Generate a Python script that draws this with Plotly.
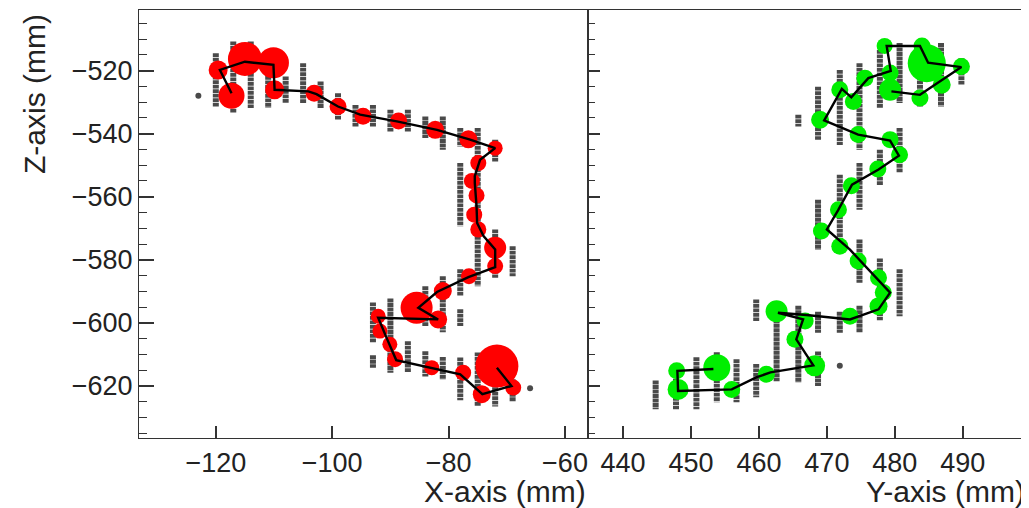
import plotly.graph_objects as go

# ---------------- data ----------------
# Left panel (X-Z view): gray hit columns, each column = x, z top, z bottom
XZ_COL_X = [-120, -117, -114, -111, -108, -105, -102, -99, -96, -93, -90, -87, -84, -81,
            -78, -78, -75, -72, -72, -69, -78, -78, -81, -84, -90, -93, -93, -87, -84,
            -81, -78, -75, -72, -69]
XZ_COL_ZTOP = [-514.5, -510.8, -510.8, -516.0, -521.9, -517.7, -523.5, -527.2, -530.9, -530.9,
               -532.4, -532.4, -534.6, -534.6, -538.2, -549.3, -538.2, -541.9, -570.4, -575.7,
               -583.0, -595.7, -585.2, -588.4, -592.3, -593.5, -610.3, -605.8, -609.0, -610.8,
               -611.0, -609.4, -614.7, -617.9]
XZ_COL_ZBOT = [-531.5, -533.3, -531.9, -531.9, -530.3, -530.3, -531.9, -535.6, -537.7, -537.7,
               -539.3, -539.3, -541.4, -545.1, -544.1, -569.4, -588.4, -548.8, -585.7, -585.2,
               -591.5, -601.0, -603.0, -601.0, -615.8, -606.2, -614.2, -615.8, -617.0, -618.0,
               -624.5, -626.5, -626.5, -625.0]
XZ_HIT_X = [-123, -66]
XZ_HIT_Z = [-528.0, -620.7]

# Left panel clusters (red) and fitted track
XZ_CL_X = [-119.6, -115.0, -110.1, -117.3, -109.9, -103.1, -99.0, -94.7, -88.6, -82.3, -76.6,
           -72.0, -74.9, -76.0, -75.2, -75.6, -74.9, -72.0, -72.0, -76.5, -81.0, -85.5, -81.8,
           -92.1, -91.8, -90.1, -89.2, -82.9, -77.5, -74.3, -71.7, -68.9]
XZ_CL_Z = [-519.8, -516.3, -517.5, -528.0, -526.1, -527.2, -531.4, -534.5, -536.0, -538.8, -541.8,
           -544.6, -549.3, -555.0, -559.6, -565.7, -570.4, -576.2, -582.0, -585.2, -589.9, -595.2,
           -598.9, -597.9, -602.6, -606.8, -611.5, -614.2, -615.8, -622.6, -613.7, -620.5]
XZ_CL_E = [19, 34, 31, 26, 19, 17, 17, 17, 17, 18, 18, 15, 16, 16, 16, 16, 16, 22, 16, 16, 18, 32,
           18, 15, 15, 15, 16, 15, 16, 18, 43, 16]
XZ_TRK_X = [-117.3, -119.3, -115.0, -110.1, -109.9, -104.1, -102.7, -99.0, -95.2, -88.9, -82.0,
            -76.3, -72.0, -74.6, -75.5, -75.5, -75.2, -75.1, -74.0, -72.0, -72.0, -76.6, -82.0,
            -85.2, -81.8, -92.1, -90.6, -89.0, -78.0, -74.2, -69.2, -71.7]
XZ_TRK_Z = [-527.2, -519.8, -517.2, -518.2, -526.1, -526.6, -527.5, -531.4, -534.0, -536.1, -538.8,
            -541.9, -544.6, -548.3, -553.5, -555.6, -563.0, -568.3, -572.5, -576.7, -582.3, -585.5,
            -590.2, -595.2, -598.9, -598.4, -605.0, -611.8, -616.3, -622.6, -620.0, -614.2]

# Right panel (Y-Z view)
YZ_COL_Y = [444.8, 447.8, 450.8, 453.8, 456.7, 459.6, 459.6, 462.6, 465.8, 468.7, 468.7, 471.9,
            474.8, 474.8, 477.8, 480.7, 468.7, 471.9, 474.8, 477.8, 480.7, 477.8, 480.7, 483.7,
            486.8, 489.8, 468.7, 471.9, 474.8, 465.8]
YZ_COL_ZTOP = [-618.3, -613.5, -610.9, -609.3, -611.5, -592.6, -613.0, -594.6, -594.6, -596.5,
               -609.1, -596.5, -594.6, -573.6, -579.6, -583.0, -561.0, -553.0, -549.3, -545.1,
               -538.2, -513.5, -511.3, -510.3, -511.3, -516.1, -525.1, -519.8, -517.7, -534.0]
YZ_COL_ZBOT = [-627.4, -627.4, -627.4, -625.2, -625.2, -599.4, -623.6, -618.5, -618.9, -603.1,
               -620.0, -603.1, -603.1, -587.3, -599.2, -597.9, -576.8, -576.8, -564.1, -556.5,
               -552.5, -531.9, -530.3, -531.4, -531.4, -524.5, -541.9, -543.6, -545.1, -537.7]
YZ_HIT_Y = [471.9]
YZ_HIT_Z = [-613.6]

YZ_CL_Y = [478.5, 484.0, 484.7, 489.8, 486.9, 483.7, 479.3, 479.3, 475.6, 471.9, 473.9, 469.0,
           474.6, 479.3, 480.7, 477.5, 473.6, 471.7, 469.2, 471.9, 474.6, 477.6, 478.3, 477.6,
           473.4, 462.6, 466.8, 465.3, 468.2, 461.1, 456.0, 453.8, 447.9, 448.1]
YZ_CL_Z = [-512.2, -512.2, -517.7, -518.7, -524.5, -528.7, -526.1, -520.8, -522.4, -526.1, -529.8,
           -535.6, -540.3, -541.9, -546.7, -551.2, -556.5, -564.1, -570.9, -575.7, -580.4, -585.7,
           -590.4, -594.7, -597.9, -596.3, -599.4, -605.2, -613.6, -616.3, -621.1, -614.2, -615.2,
           -621.1]
YZ_CL_E = [16, 17, 38, 17, 18, 17, 22, 17, 17, 17, 17, 18, 17, 17, 17, 17, 17, 17, 17, 17, 17, 17,
           17, 18, 17, 22, 17, 17, 21, 17, 17, 27, 17, 21]
YZ_TRK_Y = [479.5, 483.7, 489.8, 484.9, 483.7, 478.8, 479.4, 476.1, 473.6, 472.2, 469.6, 474.6,
            479.3, 480.6, 477.6, 473.7, 471.7, 470.0, 473.4, 479.3, 477.6, 473.4, 467.0, 462.8,
            466.5, 465.5, 468.0, 461.7, 459.6, 456.0, 448.1, 448.0, 453.3]
YZ_TRK_Z = [-526.6, -527.7, -518.9, -517.5, -512.2, -512.2, -520.1, -522.4, -528.5, -525.8, -535.8,
            -540.3, -542.2, -547.0, -551.4, -556.2, -564.1, -570.4, -576.8, -590.4, -595.7, -598.9,
            -597.5, -596.8, -598.9, -605.2, -613.5, -615.7, -617.3, -621.1, -621.6, -615.2, -614.6]

X_TICKS = [-120, -100, -80, -60]
Y_TICKS = [440, 450, 460, 470, 480, 490]
Z_TICKS = [-520, -540, -560, -580, -600, -620]

# ---------------- styles ----------------
GRAY = "#4a4a4a"
RED = "#ff0000"
GREEN = "#00ee00"
FONT = "Liberation Sans"
OFF = 8                      # default page margin of the html body
W, H = 1029 - OFF, 508 - OFF
ML, MR, MT, MB = 139 - OFF, 1, 10 - OFF, 508 - 438
SPLIT = (587.7 - 139) / (W - ML - MR)
PLOT_H = H - MT - MB
PLOT_W = W - ML - MR


def segments(xs, ztop, zbot):
    sx, sz = [], []
    for x, a, b in zip(xs, ztop, zbot):
        sx += [x, x, None]
        sz += [a, b, None]
    return sx, sz


fig = go.Figure()

for xs, zt, zb, hx, hz, cx, cz, ce, col, tx, tz, xa, ya in [
    (XZ_COL_X, XZ_COL_ZTOP, XZ_COL_ZBOT, XZ_HIT_X, XZ_HIT_Z, XZ_CL_X, XZ_CL_Z, XZ_CL_E, RED,
     XZ_TRK_X, XZ_TRK_Z, "x", "y"),
    (YZ_COL_Y, YZ_COL_ZTOP, YZ_COL_ZBOT, YZ_HIT_Y, YZ_HIT_Z, YZ_CL_Y, YZ_CL_Z, YZ_CL_E, GREEN,
     YZ_TRK_Y, YZ_TRK_Z, "x2", "y2"),
]:
    sx, sz = segments(xs, zt, zb)
    fig.add_trace(go.Scatter(x=sx, y=sz, mode="lines", xaxis=xa, yaxis=ya,
                             line=dict(color=GRAY, width=6, dash="3.8px,0.7px"),
                             hoverinfo="skip", showlegend=False))
    fig.add_trace(go.Scatter(x=hx, y=hz, mode="markers", xaxis=xa, yaxis=ya,
                             marker=dict(color=GRAY, size=6), showlegend=False))
    fig.add_trace(go.Scatter(x=cx, y=cz, mode="markers", xaxis=xa, yaxis=ya,
                             marker=dict(color=col, size=ce, line=dict(width=0), opacity=1),
                             showlegend=False))
    fig.add_trace(go.Scatter(x=tx, y=tz, mode="lines", xaxis=xa, yaxis=ya,
                             line=dict(color="black", width=2.4), showlegend=False))

axis_common = dict(showline=True, linecolor="#333333", linewidth=1.2, mirror=True,
                   showgrid=False, zeroline=False, ticks="inside", tickcolor="#333333",
                   automargin=False,
                   tickfont=dict(family=FONT, size=27, color="#222222"))

TITLE_FONT = dict(family=FONT, size=30, color="#222222")

fig.update_layout(
    width=W, height=H,
    margin=dict(l=ML, r=MR, t=MT, b=MB, autoexpand=False),
    paper_bgcolor="white", plot_bgcolor="white",
    xaxis=dict(domain=[0, SPLIT], range=[-133.2, -56.1], anchor="y",
               tickvals=X_TICKS, ticklen=12, tickwidth=1.5, **axis_common),
    xaxis2=dict(domain=[SPLIT, 1], range=[434.8, 499.6], anchor="y2",
                tickvals=Y_TICKS, ticklen=12, tickwidth=1.5, **axis_common),
    yaxis=dict(range=[-636.5, -500.8], anchor="x", tickvals=Z_TICKS, ticklen=15, tickwidth=1.5,
               minor=dict(dtick=5, ticks="inside", ticklen=8, tickcolor="#333333", tickwidth=1.2),
               **axis_common),
    yaxis2=dict(range=[-636.5, -500.8], anchor="x2", matches="y", showticklabels=False,
                tickvals=Z_TICKS, ticklen=12, tickwidth=1.5,
                minor=dict(dtick=5, ticks="inside", ticklen=7, tickcolor="#333333", tickwidth=1.2),
                **axis_common),
    annotations=[
        dict(text="X-axis (mm)", xref="x domain", yref="paper", x=1.0, y=-(473 - 438) / PLOT_H,
             xanchor="right", yanchor="top", showarrow=False, font=TITLE_FONT),
        dict(text="Y-axis (mm)", xref="x2 domain", yref="paper", x=0.997, y=-(473 - 438) / PLOT_H,
             xanchor="right", yanchor="top", showarrow=False, font=TITLE_FONT),
        dict(text="Z-axis (mm)", xref="paper", yref="paper", x=(35 - 139) / PLOT_W,
             y=1 - (12 - 10) / PLOT_H,
             xanchor="center", yanchor="top", textangle=-90, showarrow=False, font=TITLE_FONT),
    ],
)

fig.write_html("out.html")
